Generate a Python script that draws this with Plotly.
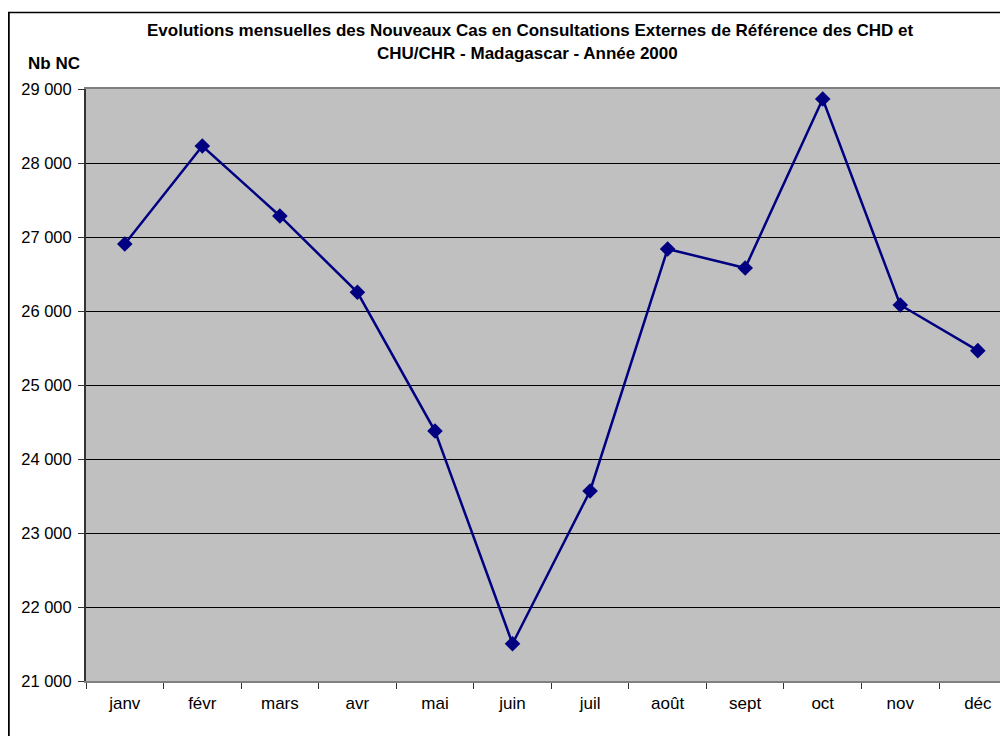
import plotly.graph_objects as go

mois = ["janv", "févr", "mars", "avr", "mai", "juin", "juil", "août", "sept", "oct", "nov", "déc"]
nouveaux_cas = [26905, 28230, 27284, 26253, 24378, 21504, 23568, 26838, 26581, 28865, 26081, 25464]
y_ticks = [21000, 22000, 23000, 24000, 25000, 26000, 27000, 28000, 29000]

FONT = "Liberation Sans, Arial, sans-serif"
W, H = 1000, 736
L, T, R = 86, 89, 0
B = H - 681

fig = go.Figure()
fig.add_trace(go.Scatter(
    x=mois, y=nouveaux_cas, mode="lines+markers",
    line=dict(color="#000080", width=2.5),
    marker=dict(symbol="diamond", size=12, color="#000080"),
    cliponaxis=False,
))

plot_w = W - L - R
plot_h = H - T - B


def px(xp):
    # window pixel -> paper coordinate
    return (xp - L) / plot_w


def py(yp):
    return (H - B - yp) / plot_h


fig.update_layout(
    width=W, height=H,
    margin=dict(l=L, r=R, t=T, b=B),
    paper_bgcolor="white", plot_bgcolor="#C0C0C0",
    showlegend=False,
    separators=", ",
    font=dict(family=FONT, size=17, color="black"),
    xaxis=dict(
        type="category", range=[-0.5, -0.5 + plot_w / 77.55],
        tickson="boundaries", ticks="outside", ticklen=6, tickcolor="#333",
        showgrid=False, showline=True, linecolor="#808080", linewidth=2, mirror=True,
        tickfont=dict(size=17), ticklabelstandoff=6,
    ),
    yaxis=dict(
        range=[21000, 29000], tickvals=y_ticks, tickformat=",d",
        ticks="outside", ticklen=6, tickcolor="#333",
        showgrid=True, gridcolor="black", gridwidth=1,
        showline=True, linecolor="#333", linewidth=2,
        zeroline=False, tickfont=dict(size=16.5), ticklabelstandoff=3,
    ),
    annotations=[
        dict(text="<b>Evolutions mensuelles des Nouveaux Cas en Consultations Externes de Référence des CHD et</b>",
             xref="paper", yref="paper", x=px(530), y=py(30), showarrow=False,
             xanchor="center", yanchor="middle", font=dict(size=17)),
        dict(text="<b>CHU/CHR - Madagascar - Année 2000</b>",
             xref="paper", yref="paper", x=px(527), y=py(53), showarrow=False,
             xanchor="center", yanchor="middle", font=dict(size=17)),
        dict(text="<b>Nb NC</b>", xref="paper", yref="paper", x=px(54), y=py(63),
             showarrow=False, xanchor="center", yanchor="middle", font=dict(size=17)),
    ],
    shapes=[
        # outer chart frame (runs off the right and bottom of the window)
        dict(type="line", xref="paper", yref="paper",
             x0=px(8), y0=py(12.5), x1=px(1000), y1=py(12.5),
             line=dict(color="black", width=1.5), layer="above"),
        dict(type="line", xref="paper", yref="paper",
             x0=px(9), y0=py(736), x1=px(9), y1=py(12),
             line=dict(color="black", width=1.5), layer="above"),
    ],
)

# drop the default body margin so the figure fills the 1000x736 window,
# and overlay the chart-frame's top/left edges in case the svg edge is lost
frame_js = (
    "document.body.style.margin='0';"
    "document.body.style.overflow='hidden';"
    "var f=document.createElement('div');"
    "f.style.cssText='position:fixed;left:8px;top:12px;width:1100px;height:800px;"
    "border-top:1px solid #000;border-left:1px solid #000;pointer-events:none;';"
    "document.body.appendChild(f);"
)
fig.write_html("out.html", config={"displayModeBar": False}, post_script=frame_js)
